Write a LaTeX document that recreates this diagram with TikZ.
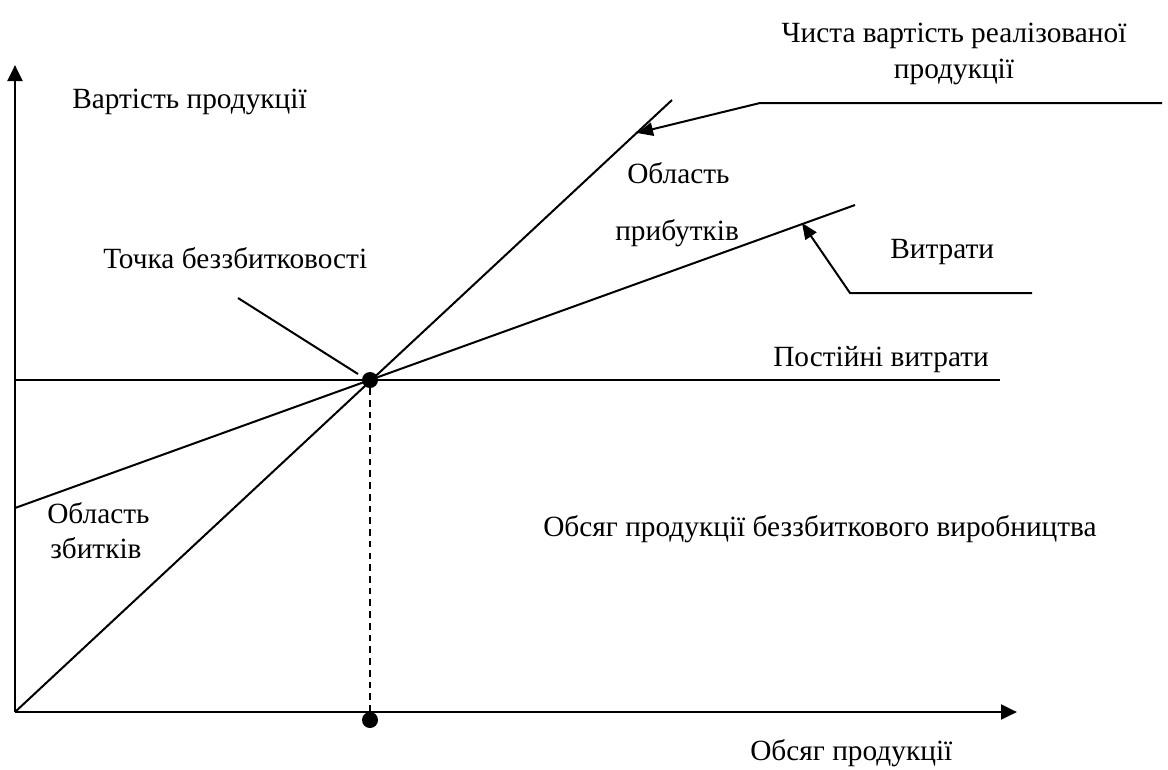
\documentclass[tikz,border=0pt]{standalone}
\usepackage{fontspec}
\setmainfont{Liberation Serif}
\usetikzlibrary{arrows.meta}
\begin{document}
\begin{tikzpicture}[x=0.75pt,y=-0.75pt,
  every node/.style={font=\fontsize{22}{27}\selectfont,inner sep=0pt},
  axisline/.style={line width=2.2pt,-{Triangle[length=12pt,width=11pt]}},
  graphline/.style={line width=1.5pt},
  pointer/.style={line width=1.5pt,-{Triangle[length=12pt,width=10pt]}},
  dot/.style={circle,fill=black,minimum size=12pt,inner sep=0pt}]
\useasboundingbox (0,0) rectangle (1168,769);
% axes
\coordinate (O) at (15,712);
\coordinate (ytip) at (15,65);
\coordinate (xtip) at (1017,712);
\draw[axisline] (O) -- (ytip);
\draw[axisline] (O) -- (xtip);
% lines
\coordinate (rev) at (672,100);
\coordinate (cost0) at (15,508);
\coordinate (cost1) at (855,205);
\coordinate (fix0) at (15,380);
\coordinate (fix1) at (1000,380);
\draw[graphline] (O) -- (rev);
\draw[graphline] (cost0) -- (cost1);
\draw[graphline] (fix0) -- (fix1);
\node[dot] (B) at (370,380) {};
\node[dot] (Q) at (370,720) {};
\draw[graphline,dash pattern=on 5pt off 3.8pt] (B) -- (Q);
% pointers
\coordinate (p1) at (1162,103);
\coordinate (p1b) at (760,103);
\coordinate (p1t) at (637,133);
\draw[pointer] (p1) -- (p1b) -- (p1t);
\coordinate (p2) at (1032,293);
\coordinate (p2b) at (850,293);
\coordinate (p2t) at (802,223);
\draw[pointer] (p2) -- (p2b) -- (p2t);
\coordinate (p3) at (238,298);
\coordinate (p3t) at (358,374);
\draw[graphline] (p3) -- (p3t);
% labels
\node[anchor=base,align=center] (netval) at (954,78) {Чиста вартість реалізованої\\продукції};
\node[anchor=base west] (value) at (72,108) {Вартість продукції};
\node[anchor=base west] (profit) at (627,183) {Область};
\node[anchor=base west] (profit2) at (615,240) {прибутків};
\node[anchor=base west] (bep) at (103,268) {Точка беззбитковості};
\node[anchor=base west] (costs) at (890,258) {Витрати};
\node[anchor=base west] (fixed) at (773,366) {Постійні витрати};
\node[anchor=base west] (loss) at (47,523) {Область};
\node[anchor=base west] (loss2) at (50,558) {збитків};
\node[anchor=base west] (bevol) at (543,536) {Обсяг продукції беззбиткового виробництва};
\node[anchor=base west] (volume) at (750,760) {Обсяг продукції};
\end{tikzpicture}
\end{document}
